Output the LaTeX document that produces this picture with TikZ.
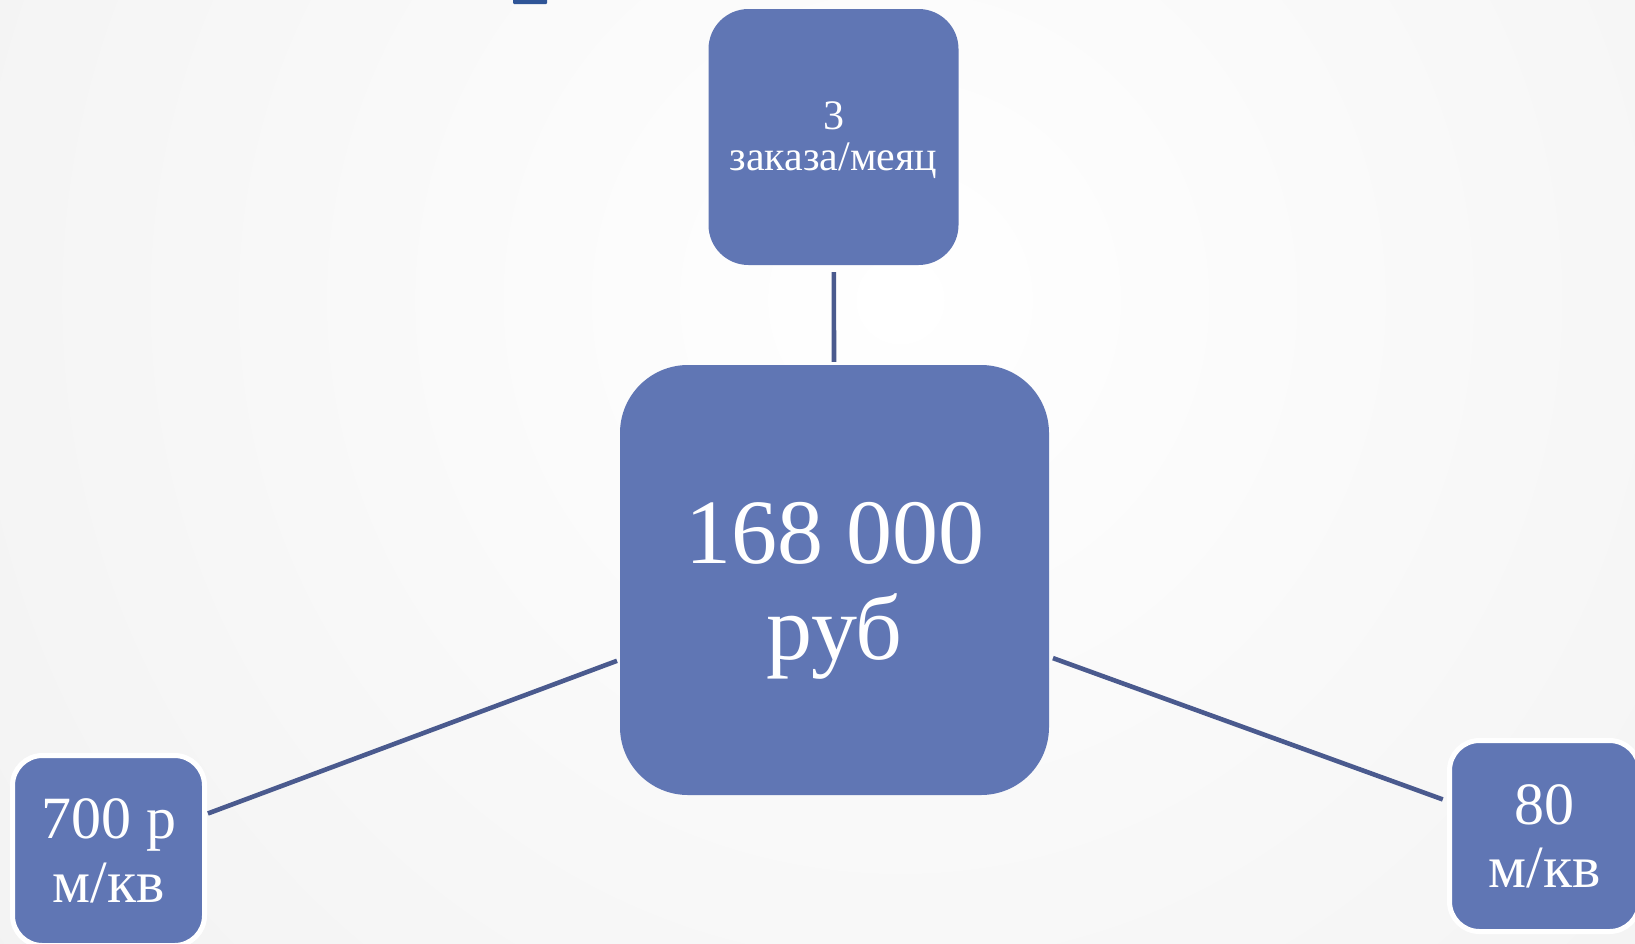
\documentclass[tikz,border=0pt]{standalone}
\usepackage{fontspec}
\setmainfont{Liberation Serif}
\definecolor{boxfill}{HTML}{6076B4}
\definecolor{linec}{HTML}{4A5A8E}
\definecolor{titleblue}{HTML}{2F5597}
\begin{document}
\begin{tikzpicture}[x=1pt,y=-1pt,
  box/.style={fill=boxfill, text=white, inner sep=0pt, align=center, text depth=0pt},
  wbox/.style={box, draw=white, line width=5pt},
  conn/.style={draw=linec, line width=4.6pt}]
\useasboundingbox (0,0) rectangle (1635,943);
\clip (0,0) rectangle (1635,943);
\shade[inner color=white, outer color=black!8] (900,300) circle (1800);
% fragment of cut-off title
\fill[titleblue, rounded corners=1pt] (513,-3) rectangle (547,4);
% boxes
\node[box, minimum width=429pt, minimum height=430pt, rounded corners=68pt,
      font=\fontsize{92}{96}\selectfont, text height=158pt] (c) at (834.5,580) {168 000\\руб};
\node[box, minimum width=250pt, minimum height=256pt, rounded corners=40pt,
      font=\fontsize{42}{41}\selectfont, text height=66pt] (t) at (833.5,137) {3\\заказа/меяц};
\node[wbox, minimum width=192pt, minimum height=190pt, rounded corners=30pt,
      font=\fontsize{60}{64}\selectfont, text height=103pt] (l) at (108.5,850.5) {700 р\\м/кв};
\node[wbox, minimum width=190pt, minimum height=191pt, rounded corners=30pt,
      font=\fontsize{60}{63}\selectfont, text height=102pt] (r) at (1544.5,836) {80\\м/кв};
% connectors
\draw[conn, shorten <=7pt, shorten >=3pt] (t) -- (c);
\draw[conn, shorten <=1pt, shorten >=3pt] (l) -- (c);
\draw[conn, shorten <=4pt, shorten >=4.5pt] (c) -- (r);
\end{tikzpicture}
\end{document}
